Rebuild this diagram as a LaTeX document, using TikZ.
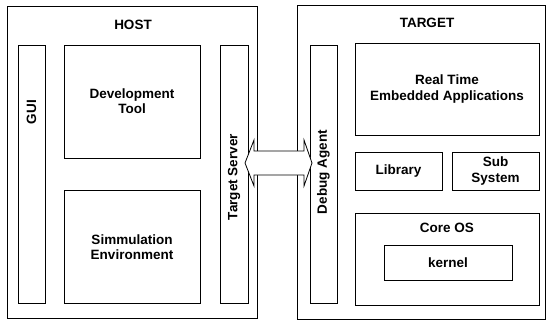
\documentclass[tikz,border=0pt]{standalone}
\usepackage{fontspec}
\setmainfont{Liberation Sans}
\begin{document}
\begin{tikzpicture}[x=1pt,y=-1pt,
  box/.style={draw,line width=0.8pt,inner sep=0pt},
  lbl/.style={font=\bfseries\fontsize{13.5}{15.5}\selectfont,align=center},
  outer/.style={draw,line width=0.9pt}]
\useasboundingbox (0,0) rectangle (547,322);
% HOST
\draw[outer] (7,6) rectangle (257,318);
\node[lbl] (host) at (133,25) {HOST};
\draw[box] (18,45) rectangle (45,303);
\node[lbl,rotate=90] (gui) at (31.5,112) {GUI};
\draw[box] (64,45) rectangle (200,158);
\node[lbl] (dev) at (132,101) {Development\\Tool};
\draw[box] (64,190) rectangle (200,303);
\node[lbl] (sim) at (132,247) {Simmulation\\Environment};
\draw[box] (220,45) rectangle (248,303);
\node[lbl,rotate=90] (ts) at (234,177) {Target Server};
% TARGET
\draw[outer] (297,5) rectangle (545,319);
\node[lbl] (target) at (427,23) {TARGET};
\draw[box] (310,45) rectangle (337,303);
\node[lbl,rotate=90] (da) at (323.5,172) {Debug Agent};
\draw[box] (355,43) rectangle (539,135);
\node[lbl] (rt) at (447,89) {Real Time\\Embedded Applications};
\draw[box] (355,152) rectangle (442,190);
\node[lbl] (lib) at (398.5,171) {Library};
\draw[box] (452,152) rectangle (539,190);
\node[lbl] (sub) at (495.5,171) {Sub\\System};
\draw[box] (355,213) rectangle (539,305);
\node[lbl] (core) at (447,228) {Core OS};
\draw[box] (384,245) rectangle (512,280);
\node[lbl] (kern) at (448,262.5) {kernel};
% double arrow
\coordinate (l) at (245,163);
\coordinate (r) at (312,163);
\draw[line width=0.8pt,fill=white] (l) -- (254,140) -- (254,151) -- (304,151) -- (304,140) -- (r)
  -- (304,186) -- (304,175) -- (254,175) -- (254,186) -- cycle;
\end{tikzpicture}
\end{document}
